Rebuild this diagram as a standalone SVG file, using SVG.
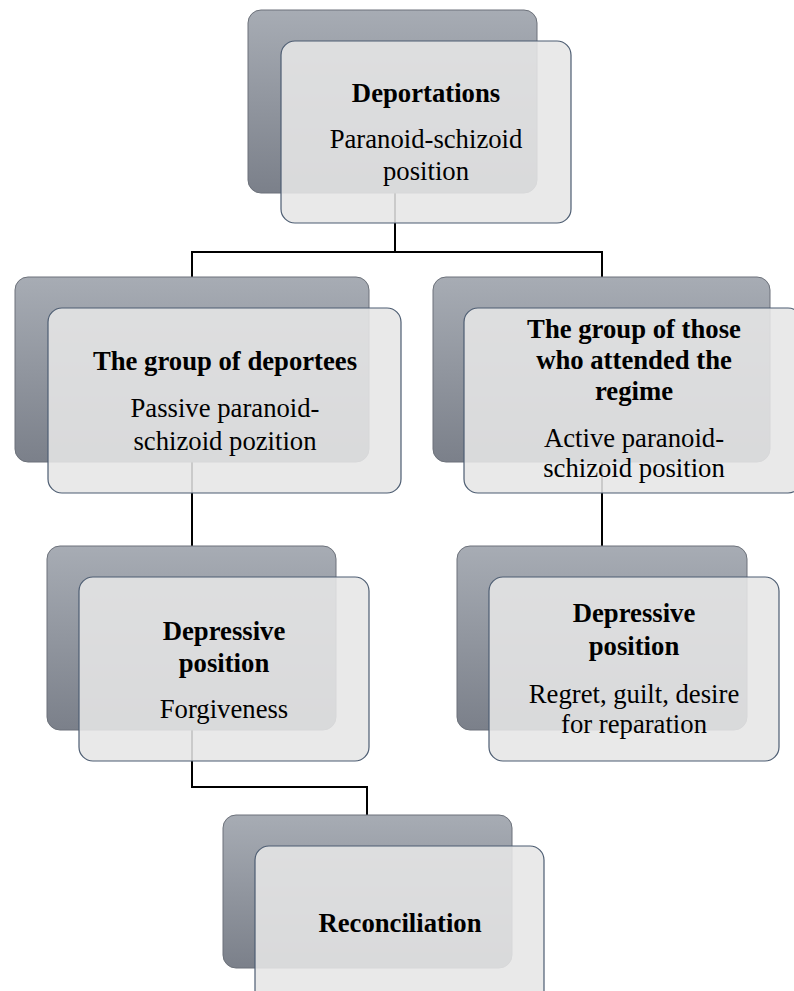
<svg xmlns="http://www.w3.org/2000/svg" width="794" height="991" viewBox="0 0 794 991">
  <defs>
    <linearGradient id="backFill" x1="0" y1="0" x2="0" y2="1">
      <stop offset="0" stop-color="#a7acb4"/>
      <stop offset="1" stop-color="#7b808a"/>
    </linearGradient>
    <style>
      .back { fill: url(#backFill); stroke: #6c717a; stroke-width: 1; }
      .front { fill: #e6e6e6; fill-opacity: 0.88; stroke: #4d5d72; stroke-width: 1.2; }
      .conn { fill: none; stroke: #000; stroke-width: 2; }
      .lbl { font-family: "Liberation Serif", "Times New Roman", serif; font-size: 26.7px; fill: #000; text-anchor: middle; }
      .b { font-weight: bold; }
    </style>
  </defs>
  <rect width="794" height="991" fill="#fff"/>

  <!-- connectors, drawn under the cards -->
  <g id="connectors">
    <path class="conn" d="M395,150 V252 H192 V300"/>
    <path class="conn" d="M395,252 H602 V300"/>
    <path class="conn" d="M192,420 V560"/>
    <path class="conn" d="M602,420 V560"/>
    <path class="conn" d="M192,700 V787 H367 V830"/>
  </g>

  <g id="deportations">
    <rect class="back" x="248" y="10" width="289" height="183" rx="13"/>
    <rect class="front" x="281" y="41" width="290" height="182" rx="14"/>
    <text class="lbl b" x="426" y="102">Deportations</text>
    <text class="lbl" x="426" y="148">Paranoid-schizoid</text>
    <text class="lbl" x="426" y="180">position</text>
  </g>

  <g id="deportees">
    <rect class="back" x="15" y="277" width="354" height="185" rx="13"/>
    <rect class="front" x="48" y="308" width="353" height="185" rx="14"/>
    <text class="lbl b" x="225" y="370">The group of deportees</text>
    <text class="lbl" x="225" y="417">Passive paranoid-</text>
    <text class="lbl" x="225" y="450">schizoid pozition</text>
  </g>

  <g id="regime">
    <rect class="back" x="433" y="277" width="337" height="185" rx="13"/>
    <rect class="front" x="464" y="308" width="338" height="185" rx="14"/>
    <text class="lbl b" x="634" y="338">The group of those</text>
    <text class="lbl b" x="634" y="369">who attended the</text>
    <text class="lbl b" x="634" y="400">regime</text>
    <text class="lbl" x="634" y="447">Active paranoid-</text>
    <text class="lbl" x="634" y="477">schizoid position</text>
  </g>

  <g id="depressive-left">
    <rect class="back" x="47" y="546" width="289" height="184" rx="13"/>
    <rect class="front" x="79" y="577" width="290" height="184" rx="14"/>
    <text class="lbl b" x="224" y="640">Depressive</text>
    <text class="lbl b" x="224" y="672">position</text>
    <text class="lbl" x="224" y="718">Forgiveness</text>
  </g>

  <g id="depressive-right">
    <rect class="back" x="457" y="546" width="290" height="184" rx="13"/>
    <rect class="front" x="489" y="577" width="290" height="184" rx="14"/>
    <text class="lbl b" x="634" y="622">Depressive</text>
    <text class="lbl b" x="634" y="655">position</text>
    <text class="lbl" x="634" y="703">Regret, guilt, desire</text>
    <text class="lbl" x="634" y="733">for reparation</text>
  </g>

  <g id="reconciliation">
    <rect class="back" x="223" y="815" width="289" height="153" rx="13"/>
    <rect class="front" x="255" y="846" width="289" height="184" rx="14"/>
    <text class="lbl b" x="400" y="932">Reconciliation</text>
  </g>
</svg>
